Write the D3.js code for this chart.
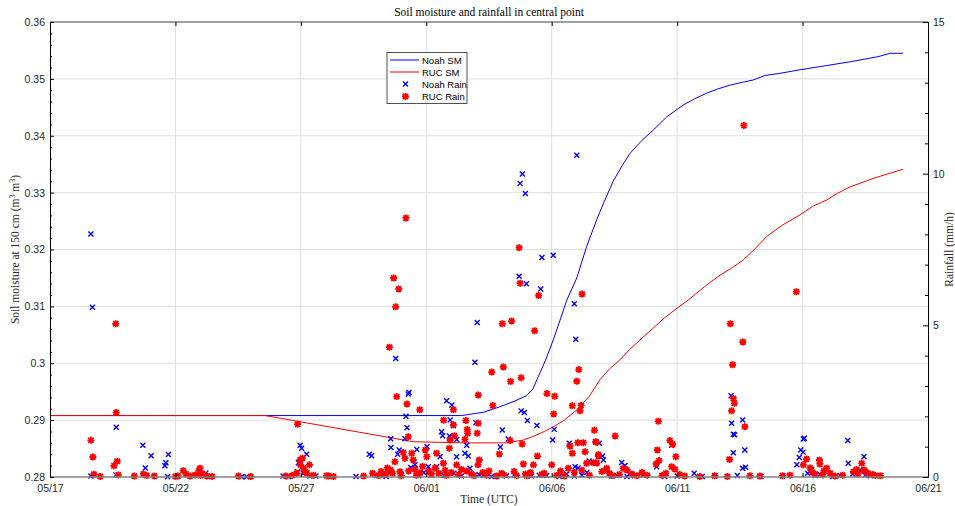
<!DOCTYPE html>
<html><head><meta charset="utf-8">
<script src="https://cdn.jsdelivr.net/npm/d3@7/dist/d3.min.js"></script>
<style>body{margin:0;background:#fff}svg{display:block}</style>
</head><body><svg id="c" width="955" height="506"></svg>
<script>
// time values are days since 05/17 00:00 UTC
const startDate = Date.UTC(2019, 4, 17);
const xTickDays = [0, 5, 10, 15, 20, 25, 30, 35];
const yLeftTicks = [0.28, 0.29, 0.30, 0.31, 0.32, 0.33, 0.34, 0.35, 0.36];
const yRightTicks = [0, 5, 10, 15];

const noahSM = [[0,0.2908],[16.4,0.2908],[17.3,0.2914],[17.9,0.2923],[18.5,0.2933],[19.0,0.2943],[19.25,0.2955],[19.45,0.2975],[19.75,0.3005],[20.06,0.3041],[20.35,0.3078],[20.6,0.3111],[21.0,0.3150],[21.39,0.3205],[21.79,0.3252],[22.1,0.3285],[22.45,0.3320],[22.8,0.3347],[23.12,0.3369],[23.6,0.3392],[24.05,0.3410],[24.58,0.3433],[25.24,0.3454],[25.7,0.3465],[26.18,0.3475],[26.6,0.3482],[27.11,0.3489],[27.6,0.3494],[28.03,0.3498],[28.5,0.3506],[29.0,0.3509],[29.9,0.3516],[30.9,0.3523],[31.89,0.3530],[33.0,0.3539],[33.5,0.3545],[34.0,0.3545]];

const rucSM = [[0,0.2908],[8.57,0.2908],[10.76,0.2891],[14.48,0.2862],[16.47,0.2860],[18.2,0.2860],[18.87,0.2865],[19.3,0.2872],[19.7,0.2880],[20.06,0.2888],[20.5,0.2900],[21.0,0.2918],[21.5,0.2942],[21.92,0.2971],[22.3,0.2990],[22.72,0.3006],[23.1,0.3024],[23.52,0.3041],[24.0,0.3060],[24.5,0.3080],[25.0,0.3097],[25.44,0.3111],[26.1,0.3135],[26.71,0.3155],[27.2,0.3168],[27.64,0.3182],[28.1,0.3201],[28.57,0.3223],[29.2,0.3243],[29.9,0.3261],[30.4,0.3276],[30.96,0.3287],[31.4,0.3299],[31.89,0.3310],[32.82,0.3325],[33.4,0.3333],[34.0,0.3341]];

const noahRain = [[1.63,8.01],[1.69,5.60],[2.64,1.64],[3.70,1.05],[4.03,0.70],[3.80,0.30],[4.72,0.74],[4.62,0.47],[4.58,0.37],[1.63,0.03],[2.63,0.07],[4.69,0.01],[6.21,0.12],[7.64,0.01],[7.84,0.01],[9.29,0.03],[9.97,1.05],[10.03,0.95],[10.23,0.75],[9.90,0.47],[9.87,0.17],[10.10,0.12],[10.36,0.03],[12.73,0.75],[13.78,3.91],[14.31,2.79],[14.28,2.74],[14.19,2.00],[14.23,1.62],[13.58,1.26],[14.15,1.26],[13.59,0.97],[13.92,0.89],[13.86,0.75],[12.82,0.70],[14.62,0.91],[15.03,1.00],[14.38,0.31],[14.55,0.40],[15.81,2.51],[16.02,2.37],[15.95,1.88],[16.08,1.69],[15.61,1.49],[15.65,1.36],[15.92,1.35],[16.21,1.24],[15.55,0.67],[16.21,0.67],[16.61,1.05],[16.54,0.78],[16.67,0.69],[17.03,5.09],[16.94,3.78],[16.98,1.79],[15.08,0.34],[15.41,0.34],[16.74,0.29],[18.83,9.99],[18.74,9.68],[18.95,9.35],[21.00,10.61],[19.61,7.24],[20.06,7.31],[18.70,6.62],[18.99,6.37],[19.56,6.20],[20.90,5.71],[20.96,4.54],[18.78,2.18],[18.91,2.13],[19.03,1.86],[19.41,1.70],[18.03,1.55],[18.27,1.25],[17.95,0.99],[20.10,1.57],[20.04,1.22],[20.70,1.11],[21.49,0.53],[21.65,0.49],[21.90,1.11],[20.93,0.34],[21.05,0.30],[22.03,0.69],[22.06,0.56],[22.79,0.48],[22.92,0.38],[24.78,1.05],[24.18,0.34],[25.68,0.12],[27.15,2.68],[27.17,1.77],[27.61,1.88],[27.24,1.41],[27.29,1.39],[27.70,0.89],[27.24,0.80],[27.61,0.29],[27.73,0.32],[30.03,1.25],[30.07,1.28],[29.93,0.89],[30.02,0.82],[29.87,0.64],[29.77,0.40],[30.36,0.25],[31.80,1.20],[31.82,0.45],[32.45,0.67],[32.29,0.23],[9.5,0.02],[10.6,0.03],[12.2,0.02],[13.0,0.05],[14.7,0.04],[15.2,0.06],[16.4,0.03],[17.3,0.05],[17.6,0.02],[18.2,0.04],[18.5,0.07],[19.2,0.03],[19.8,0.05],[20.3,0.02],[21.2,0.06],[22.4,0.03],[22.6,0.05],[23.0,0.02],[23.3,0.04],[23.65,0.06],[25.0,0.03],[26.0,0.02],[26.5,0.03],[27.4,0.05],[28.34,0.02],[29.2,0.03],[30.5,0.05],[31.2,0.02],[32.7,0.04],[24.5,0.02],[20.9,0.03],[13.4,0.02],[14.0,0.08],[14.9,0.15],[15.7,0.05],[16.1,0.12],[17.1,0.08],[17.8,0.04],[19.5,0.06],[20.6,0.10],[21.4,0.15],[22.2,0.20],[23.1,0.10],[30.2,0.12],[30.7,0.08],[31.5,0.05],[32.0,0.10],[32.5,0.06]];

const rucRain = [[2.62,5.05],[2.64,2.13],[1.63,1.21],[1.71,0.66],[2.55,0.37],[2.68,0.52],[1.75,0.09],[2.72,0.07],[3.36,0.03],[3.72,0.10],[3.85,0.05],[4.16,0.03],[5.31,0.21],[5.98,0.29],[5.10,0.03],[5.42,0.10],[5.58,0.03],[5.78,0.07],[5.94,0.20],[6.10,0.08],[6.26,0.03],[6.46,0.02],[7.51,0.03],[9.87,1.74],[10.06,0.62],[9.97,0.56],[9.98,0.40],[10.34,0.40],[10.10,0.29],[10.17,0.17],[10.24,0.13],[9.83,0.12],[9.65,0.05],[11.03,0.04],[14.19,8.54],[13.70,6.56],[13.90,6.20],[13.78,5.61],[13.53,4.28],[13.82,2.65],[14.23,2.41],[14.74,2.22],[14.28,1.33],[15.69,1.87],[16.08,2.22],[16.08,1.72],[16.12,1.36],[16.58,1.86],[16.63,1.57],[16.65,1.44],[16.54,1.24],[17.07,2.70],[17.07,1.77],[15.95,1.22],[15.92,0.95],[15.41,0.78],[14.96,0.89],[15.02,0.67],[14.42,0.78],[14.08,0.81],[14.15,0.62],[13.75,0.50],[14.48,0.56],[15.68,0.45],[16.21,0.40],[12.86,0.12],[13.39,0.10],[13.58,0.23],[13.95,0.17],[14.75,0.13],[15.35,0.30],[16.61,0.20],[17.06,0.40],[18.70,7.56],[18.74,6.39],[19.48,5.98],[21.21,6.03],[18.03,5.05],[18.40,5.14],[19.32,4.82],[17.61,3.46],[18.07,3.63],[18.36,3.15],[18.78,3.27],[17.65,2.36],[19.81,2.75],[20.12,2.66],[20.08,2.08],[20.82,2.35],[21.17,2.36],[21.13,2.18],[21.08,3.54],[21.00,3.16],[17.03,1.44],[18.34,1.20],[18.82,1.09],[17.91,0.76],[17.11,0.56],[19.43,0.69],[18.87,0.43],[19.27,0.40],[20.00,0.40],[20.73,1.02],[20.82,0.78],[21.04,1.13],[21.26,1.13],[21.33,0.83],[21.70,1.54],[21.77,1.15],[21.86,0.73],[21.39,0.45],[20.66,0.29],[27.66,11.59],[29.75,6.11],[27.12,5.05],[27.62,4.45],[27.21,3.70],[27.24,2.59],[27.28,2.43],[27.17,2.18],[27.70,1.66],[27.09,0.58],[24.25,1.84],[21.75,1.16],[22.53,1.35],[21.86,0.69],[21.66,0.47],[21.80,0.46],[22.19,0.29],[22.85,0.29],[23.00,0.23],[24.71,1.20],[24.82,1.08],[24.21,0.89],[24.28,0.54],[24.16,0.43],[24.95,0.67],[24.78,0.34],[24.91,0.26],[30.16,0.59],[30.03,0.40],[30.67,0.56],[30.69,0.43],[30.96,0.29],[30.38,0.16],[32.36,0.45],[32.03,0.17],[32.45,0.23],[32.61,0.12],[32.21,0.10],[11.3,0.02],[12.5,0.03],[13.1,0.05],[13.3,0.08],[14.0,0.04],[14.6,0.06],[15.2,0.10],[15.8,0.05],[16.3,0.08],[16.9,0.04],[17.4,0.06],[17.8,0.03],[18.1,0.07],[18.6,0.05],[19.0,0.04],[19.6,0.08],[20.2,0.05],[20.5,0.03],[21.5,0.06],[22.4,0.05],[22.7,0.08],[23.4,0.04],[23.8,0.06],[24.4,0.05],[25.3,0.03],[25.9,0.02],[26.5,0.04],[27.0,0.02],[27.9,0.04],[28.3,0.03],[29.2,0.04],[29.5,0.06],[30.5,0.10],[30.8,0.07],[31.3,0.03],[31.6,0.06],[32.8,0.08],[33.1,0.04],[5.0,0.02],[6.0,0.05],[10.5,0.06],[11.1,0.03],[13.2,0.18],[13.45,0.30],[13.65,0.12],[14.3,0.20],[14.55,0.25],[14.85,0.35],[15.1,0.18],[15.5,0.12],[15.75,0.22],[16.0,0.15],[16.4,0.25],[16.8,0.10],[17.25,0.15],[17.5,0.20],[18.0,0.12],[18.5,0.18],[18.95,0.10],[19.15,0.15],[19.7,0.12],[20.35,0.20],[20.9,0.15],[21.2,0.22],[22.0,0.18],[22.3,0.12],[23.2,0.10],[23.6,0.15],[24.55,0.12],[25.1,0.08],[30.3,0.30],[30.85,0.20],[31.1,0.12],[32.15,0.25],[32.5,0.18],[32.9,0.05],[2.0,0.02],[8.0,0.02],[9.4,0.03]];

const legendLabels = ["Noah SM", "RUC SM", "Noah Rain", "RUC Rain"];
const titleText = "Soil moisture and rainfall in central point";

const W = 955, H = 506;
const m = {l: 50, r: 27, t: 22, b: 29};
const svg = d3.select("#c");
const toDate = d => new Date(startDate + d * 86400000);

const x = d3.scaleUtc().domain([toDate(0), toDate(35)]).range([m.l, W - m.r]);
const yL = d3.scaleLinear().domain([0.28, 0.36]).range([H - m.b, m.t]);
const yR = d3.scaleLinear().domain([0, 15]).range([H - m.b, m.t]);

const sans = "'Liberation Sans', Arial, sans-serif";
const serif = "'Liberation Serif', 'Times New Roman', serif";
const tickColor = "#262626";

// grid
const grid = svg.append("g");
grid.selectAll(".gx").data(xTickDays.slice(1, -1)).join("line")
  .attr("x1", d => x(toDate(d))).attr("x2", d => x(toDate(d)))
  .attr("y1", m.t).attr("y2", H - m.b)
  .attr("stroke", "#dfdfdf").attr("stroke-width", 1);
grid.selectAll(".gy").data(yLeftTicks.slice(1, -1)).join("line")
  .attr("x1", m.l).attr("x2", W - m.r)
  .attr("y1", d => yL(d)).attr("y2", d => yL(d))
  .attr("stroke", "#dfdfdf").attr("stroke-width", 1);

// SM lines
const line = d3.line().x(d => x(toDate(d[0]))).y(d => yL(d[1]));
svg.append("path").datum(noahSM).attr("d", line).attr("fill", "none").attr("stroke", "#0000ff").attr("stroke-width", 1);
svg.append("path").datum(rucSM).attr("d", line).attr("fill", "none").attr("stroke", "#ff0000").attr("stroke-width", 1);

// markers
const xMark = "M-2.5,-2.5L2.5,2.5M-2.5,2.5L2.5,-2.5";
const starMark = "M0,-3.5V3.5M-3.5,0H3.5M-2.6,-2.6L2.6,2.6M-2.6,2.6L2.6,-2.6";
svg.append("g").selectAll("path").data(noahRain).join("path")
  .attr("transform", d => `translate(${x(toDate(d[0]))},${yR(d[1])})`)
  .attr("d", xMark).attr("stroke", "#0000ff").attr("stroke-width", 1.4).attr("fill", "none");
svg.append("g").selectAll("path").data(rucRain).join("path")
  .attr("transform", d => `translate(${x(toDate(d[0]))},${yR(d[1])})`)
  .attr("d", starMark).attr("stroke", "#ff0000").attr("stroke-width", 1.8).attr("fill", "none");

// box lines top/bottom
svg.append("line").attr("x1", m.l).attr("x2", W - m.r).attr("y1", m.t).attr("y2", m.t).attr("stroke", "#808080").attr("stroke-width", 1.5);
svg.append("line").attr("x1", m.l).attr("x2", W - m.r).attr("y1", H - m.b).attr("y2", H - m.b).attr("stroke", "#808080").attr("stroke-width", 1.5);

function styleAxis(g) {
  g.select(".domain").attr("stroke", "#000");
  g.selectAll(".tick line").attr("stroke", "#000");
  g.selectAll(".tick text").attr("fill", tickColor).attr("font-family", sans).attr("font-size", "10.5px");
}

// x axes
const fmt = d3.utcFormat("%m/%d");
const xVals = xTickDays.map(toDate);
svg.append("g").attr("transform", `translate(0,${H - m.b})`)
  .call(d3.axisBottom(x).tickValues(xVals).tickFormat(fmt).tickSize(-4).tickSizeOuter(0).tickPadding(8))
  .call(g => { styleAxis(g); g.select(".domain").remove(); });
svg.append("g").attr("transform", `translate(0,${m.t})`)
  .call(d3.axisTop(x).tickValues(xVals).tickFormat("").tickSize(-4).tickSizeOuter(0))
  .call(g => { styleAxis(g); g.select(".domain").remove(); });

// left axis
const yLMinor = d3.range(0.28, 0.3601, 0.002).filter(v => Math.abs(Math.round(v * 100) - v * 100) > 1e-6);
svg.append("g").attr("transform", `translate(${m.l},0)`)
  .call(d3.axisLeft(yL).tickValues(yLMinor).tickFormat("").tickSize(-2).tickSizeOuter(0))
  .call(g => { styleAxis(g); });
svg.append("g").attr("transform", `translate(${m.l},0)`)
  .call(d3.axisLeft(yL).tickValues(yLeftTicks).tickFormat(d => d3.format("")(+d.toFixed(2))).tickSize(-4).tickSizeOuter(0).tickPadding(5))
  .call(styleAxis);

// right axis
const yRMinor = d3.range(0, 16, 1).filter(v => v % 5 !== 0);
svg.append("g").attr("transform", `translate(${W - m.r},0)`)
  .call(d3.axisRight(yR).tickValues(yRMinor).tickFormat("").tickSize(-3).tickSizeOuter(0))
  .call(styleAxis);
svg.append("g").attr("transform", `translate(${W - m.r},0)`)
  .call(d3.axisRight(yR).tickValues(yRightTicks).tickSize(-5).tickSizeOuter(0).tickPadding(5))
  .call(styleAxis);

// titles
svg.append("text").attr("x", (m.l + W - m.r) / 2).attr("y", 16).attr("text-anchor", "middle")
  .attr("font-family", serif).attr("font-size", "11.5px").attr("fill", "#000").text(titleText);
svg.append("text").attr("x", (m.l + W - m.r) / 2).attr("y", 503).attr("text-anchor", "middle")
  .attr("font-family", serif).attr("font-size", "11.5px").attr("fill", tickColor).text("Time (UTC)");
const yl = svg.append("text").attr("transform", `translate(19,${(m.t + H - m.b) / 2}) rotate(-90)`).attr("text-anchor", "middle")
  .attr("font-family", serif).attr("font-size", "11.5px").attr("fill", tickColor);
yl.append("tspan").text("Soil moisture at 150 cm (m");
yl.append("tspan").attr("dy", -4).attr("font-size", "8px").text("3");
yl.append("tspan").attr("dy", 4).text(" m");
yl.append("tspan").attr("dy", -4).attr("font-size", "8px").text("3");
yl.append("tspan").attr("dy", 4).text(")");
svg.append("text").attr("transform", `translate(953,${(m.t + H - m.b) / 2}) rotate(-90)`).attr("text-anchor", "middle")
  .attr("font-family", serif).attr("font-size", "11.5px").attr("fill", tickColor).text("Rainfall (mm/h)");

// legend
const lg = svg.append("g").attr("transform", "translate(387,52.5)");
lg.append("rect").attr("width", 80).attr("height", 51).attr("fill", "#fff").attr("stroke", "#262626").attr("stroke-width", 0.8);
const rows = [7.5, 19.5, 31.5, 44];
lg.append("line").attr("x1", 3).attr("x2", 32).attr("y1", rows[0]).attr("y2", rows[0]).attr("stroke", "#0000ff");
lg.append("line").attr("x1", 3).attr("x2", 32).attr("y1", rows[1]).attr("y2", rows[1]).attr("stroke", "#ff0000");
lg.append("path").attr("transform", `translate(18.5,${rows[2]})`).attr("d", xMark).attr("stroke", "#0000ff").attr("stroke-width", 1.4).attr("fill", "none");
lg.append("path").attr("transform", `translate(18.5,${rows[3]})`).attr("d", starMark).attr("stroke", "#ff0000").attr("stroke-width", 1.8).attr("fill", "none");
lg.selectAll("text.l").data(legendLabels).join("text")
  .attr("x", 35).attr("y", (d, i) => rows[i] + 3.5)
  .attr("font-family", sans).attr("font-size", "9.5px").attr("fill", "#000").text(d => d);
</script></body></html>
